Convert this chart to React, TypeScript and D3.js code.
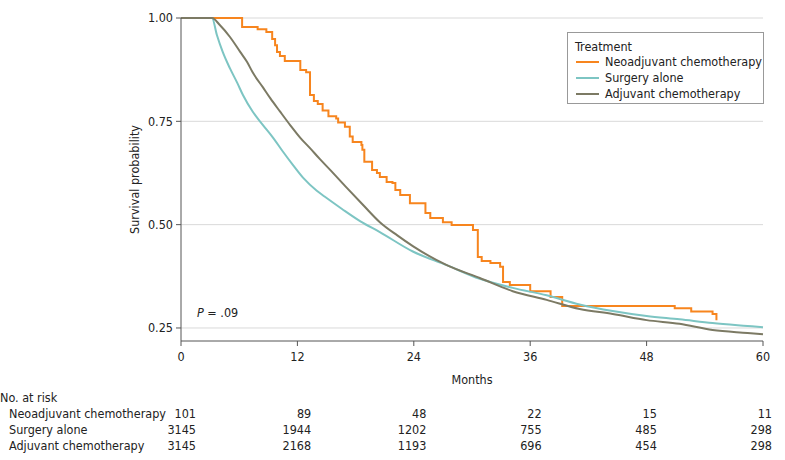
import React from "react";
import * as d3 from "d3";

const monthTicks = [0, 12, 24, 36, 48, 60];
const yTicks = [0.25, 0.5, 0.75, 1.0];

const groups = ["Neoadjuvant chemotherapy", "Surgery alone", "Adjuvant chemotherapy"];
const colors = ["#F7851E", "#7DC5C3", "#7C7A64"];

const neoTime = [0, 6.3, 7.9, 8.8, 9.4, 9.7, 9.9, 10.2, 10.7, 12.3, 12.9, 13.3, 13.7, 14.1, 14.6, 15.2, 16.0, 16.2, 16.9, 17.4, 17.7, 18.6, 18.7, 18.9, 19.7, 20.2, 20.5, 21.2, 21.8, 22.1, 22.6, 23.6, 25.2, 25.7, 27.0, 27.9, 30.1, 30.6, 31.0, 31.9, 32.9, 33.2, 33.9, 36.0, 38.1, 39.3, 50.9, 52.6, 54.8, 55.2];
const neoSurv = [1.0, 0.978, 0.973, 0.966, 0.949, 0.934, 0.918, 0.908, 0.896, 0.874, 0.869, 0.814, 0.799, 0.792, 0.776, 0.762, 0.757, 0.747, 0.737, 0.713, 0.7, 0.693, 0.681, 0.652, 0.632, 0.625, 0.615, 0.603, 0.601, 0.584, 0.572, 0.552, 0.528, 0.516, 0.506, 0.499, 0.487, 0.422, 0.412, 0.407, 0.398, 0.361, 0.354, 0.339, 0.325, 0.303, 0.298, 0.29, 0.284, 0.269];

const surgeryTime = [0, 3.2, 3.7, 4.3, 5.05, 5.8, 6.4, 7.4, 8.45, 9.5, 10.5, 11.55, 12.6, 14.0, 14.8, 16.6, 18.5, 20.5, 23.9, 27.4, 30.8, 34.2, 37.7, 41.1, 44.5, 48.0, 51.4, 54.8, 58.4, 60];
const surgerySurv = [1.0, 1.0, 0.959, 0.918, 0.878, 0.843, 0.813, 0.773, 0.741, 0.71, 0.677, 0.644, 0.613, 0.582, 0.568, 0.538, 0.508, 0.482, 0.435, 0.402, 0.369, 0.347, 0.329, 0.307, 0.291, 0.279, 0.271, 0.262, 0.255, 0.252];

const adjTime = [0, 3.2, 4.0, 5.05, 6.1, 6.8, 7.4, 8.45, 9.2, 10.2, 11.25, 12.3, 13.3, 14.3, 15.4, 17.1, 18.8, 20.5, 22.3, 23.9, 27.4, 30.8, 34.2, 37.7, 41.1, 44.5, 48.0, 51.4, 54.8, 58.4, 60];
const adjSurv = [1.0, 1.0, 0.983, 0.954, 0.918, 0.894, 0.868, 0.832, 0.806, 0.774, 0.741, 0.71, 0.685, 0.659, 0.632, 0.589, 0.547, 0.506, 0.474, 0.448, 0.402, 0.371, 0.339, 0.318, 0.296, 0.284, 0.269, 0.26, 0.245, 0.238, 0.235];

const riskNeo = [101, 89, 48, 22, 15, 11];
const riskSurgery = [3145, 1944, 1202, 755, 485, 298];
const riskAdj = [3145, 2168, 1193, 696, 454, 298];

const FONT = "'DejaVu Sans Condensed', 'Liberation Sans Narrow', sans-serif";

export default function App() {
  const W = 785, H = 460;
  const x = d3.scaleLinear().domain([0, 60]).range([181, 763]);
  const y = d3.scaleLinear().domain([0.2185, 1]).range([341, 18]);
  const xt = d3.scaleLinear().domain([0, 60]).range([196, 772]);

  const zip = (t: number[], s: number[]) => t.map((v, i) => [v, s[i]] as [number, number]);
  const stepLine = d3.line<[number, number]>().x(d => x(d[0])).y(d => y(d[1])).curve(d3.curveStepAfter);
  const smoothLine = d3.line<[number, number]>().x(d => x(d[0])).y(d => y(d[1])).curve(d3.curveMonotoneX);

  const series = [
    { d: stepLine(zip(neoTime, neoSurv)), c: colors[0] },
    { d: smoothLine(zip(surgeryTime, surgerySurv)), c: colors[1] },
    { d: smoothLine(zip(adjTime, adjSurv)), c: colors[2] },
  ];
  const risks = [riskNeo, riskSurgery, riskAdj];
  const fs = 12.5;
  const axisColor = "#555";

  return (
    <svg width={W} height={H} style={{ position: "absolute", left: 0, top: 0, background: "#fff" }} fontFamily={FONT}>
      {yTicks.map(t => (
        <line key={"g" + t} x1={x(0)} x2={x(60)} y1={y(t)} y2={y(t)} stroke="#d9d9d9" strokeWidth={1} />
      ))}
      {series.map((s, i) => (
        <path key={i} d={s.d || ""} fill="none" stroke={s.c} strokeWidth={2} strokeLinejoin="miter" />
      ))}
      <line x1={x(0)} x2={x(0)} y1={y(1)} y2={341} stroke={axisColor} strokeWidth={1} />
      {yTicks.map(t => (
        <g key={"y" + t}>
          <line x1={x(0) - 5} x2={x(0)} y1={y(t)} y2={y(t)} stroke={axisColor} />
          <text x={x(0) - 8} y={y(t)} dy="0.35em" textAnchor="end" fontSize={fs} fill="#222">{t.toFixed(2)}</text>
        </g>
      ))}
      <text transform={`translate(139,${(y(1) + 341) / 2}) rotate(-90)`} textAnchor="middle" fontSize={fs} fill="#222">Survival probability</text>
      <line x1={x(0)} x2={x(60)} y1={341} y2={341} stroke={axisColor} strokeWidth={1} />
      {monthTicks.map(t => (
        <g key={"x" + t}>
          <line x1={x(t)} x2={x(t)} y1={341} y2={346} stroke={axisColor} />
          <text x={x(t)} y={357} dy="0.35em" textAnchor="middle" fontSize={fs} fill="#222">{t}</text>
        </g>
      ))}
      <text x={(x(0) + x(60)) / 2} y={380} dy="0.35em" textAnchor="middle" fontSize={fs} fill="#222">Months</text>
      <text x={197} y={313} dy="0.35em" fontSize={fs} fill="#222"><tspan fontStyle="italic">P</tspan> = .09</text>
      <rect x={567.5} y={32.5} width={196} height={71} fill="#fff" stroke="#999" strokeWidth={1} />
      <text x={575} y={47} dy="0.35em" fontSize={fs} fill="#222">Treatment</text>
      {groups.map((g, i) => (
        <g key={g}>
          <line x1={576} x2={599} y1={62 + i * 16} y2={62 + i * 16} stroke={colors[i]} strokeWidth={2} />
          <text x={605} y={62 + i * 16} dy="0.35em" fontSize={fs} fill="#222">{g}</text>
        </g>
      ))}
      <text x={0} y={398} dy="0.35em" fontSize={fs} fill="#222">No. at risk</text>
      {groups.map((g, i) => (
        <g key={"r" + g}>
          <text x={9} y={414 + i * 16} dy="0.35em" fontSize={fs} fill="#222">{g}</text>
          {risks[i].map((v, j) => (
            <text key={j} x={xt(monthTicks[j])} y={414 + i * 16} dy="0.35em" textAnchor="end" fontSize={fs} fill="#222">{v}</text>
          ))}
        </g>
      ))}
    </svg>
  );
}
